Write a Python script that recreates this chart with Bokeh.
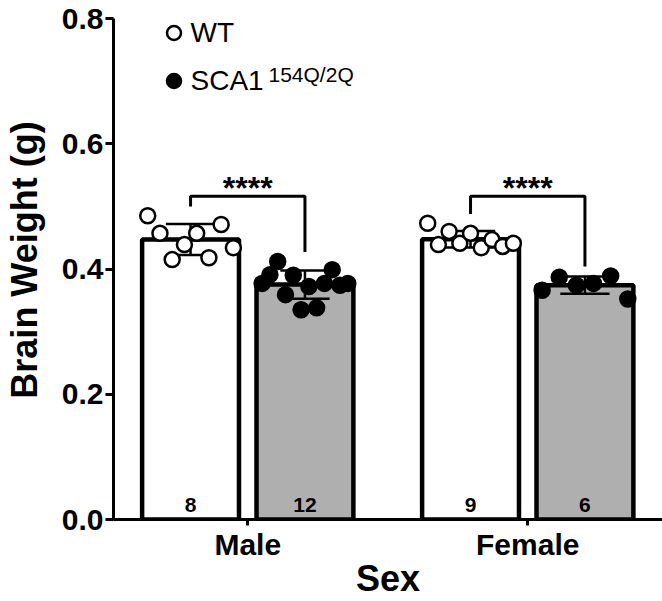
import numpy as np
from bokeh.plotting import figure
from bokeh.models import (ColumnDataSource, FixedTicker, Legend, LegendItem, Label,
                          PrintfTickFormatter, Range1d)
from bokeh.core.properties import value
from bokeh.embed import file_html
from bokeh.resources import INLINE

# ---------------- data ----------------
sexes = ["Male", "Female"]
genotypes = ["WT", "SCA1"]
genotype_superscript = ["", "154Q/2Q"]
wt_male = [0.485, 0.457, 0.415, 0.439, 0.457, 0.418, 0.471, 0.434]
sca_male = [0.377, 0.391, 0.412, 0.359, 0.390, 0.335, 0.372, 0.338,
            0.377, 0.399, 0.374, 0.377]
wt_female = [0.473, 0.439, 0.460, 0.441, 0.457, 0.434, 0.447, 0.436, 0.441]
sca_female = [0.366, 0.387, 0.374, 0.377, 0.389, 0.352]
significance = ["****", "****"]
y_ticks = [0.0, 0.2, 0.4, 0.6, 0.8]
y_label = "Brain Weight (g)"
x_label = "Sex"

# ---------------- layout / style ----------------
FONT = "Liberation Sans"
W, H = 662, 601
BORDER_L, BORDER_B = 112, 82
FRAME_W = W - BORDER_L
FRAME_H = H - BORDER_B
TOP_GAP = 18                       # px between frame top and the 0.8 tick
Y_END = 0.8 * FRAME_H / (FRAME_H - TOP_GAP)
BAR_W = 0.346          # bar width in category units
GROUP_OFF = 0.2043     # offset of each genotype bar from the category tick
SPREAD = 0.153         # half width over which points are spread
CAP_HALF = 0.088
BRACKET_Y = 0.516
BRACKET_GAP = 0.015
BAR_FILL = ["white", "#afafaf"]
PT_FILL = ["white", "black"]

groups = [(0, 0, wt_male), (0, 1, sca_male), (1, 0, wt_female), (1, 1, sca_female)]

p = figure(width=W, height=H, output_backend="svg", toolbar_location=None,
           x_range=Range1d(0.5205, 2.4813), y_range=Range1d(0, Y_END),
           min_border_left=BORDER_L, min_border_bottom=BORDER_B,
           min_border_top=0, min_border_right=0)
p.outline_line_color = None
p.xgrid.visible = False
p.ygrid.visible = False
p.background_fill_color = "white"

bar = dict(x=[], top=[], fill=[])
err = dict(x=[], lo=[], hi=[])
pts = {0: dict(x=[], y=[]), 1: dict(x=[], y=[])}
cnt = dict(x=[], text=[])
centers = {}
for si, gi, vals in groups:
    v = np.asarray(vals, dtype=float)
    cx = (si + 1) + (GROUP_OFF if gi == 1 else -GROUP_OFF)
    centers[(si, gi)] = (cx, v)
    m, sd = v.mean(), v.std(ddof=1)
    bar["x"].append(cx); bar["top"].append(m); bar["fill"].append(BAR_FILL[gi])
    err["x"].append(cx); err["lo"].append(m - sd); err["hi"].append(m + sd)
    offs = np.linspace(-SPREAD, SPREAD, len(v))
    pts[gi]["x"].extend(list(cx + offs)); pts[gi]["y"].extend(list(v))
    cnt["x"].append(cx); cnt["text"].append(str(len(v)))

p.vbar(x="x", top="top", bottom=0, width=BAR_W, fill_color="fill",
       line_color="black", line_width=4.5, source=ColumnDataSource(bar))

es = ColumnDataSource(dict(x=err["x"], lo=err["lo"], hi=err["hi"],
                           x0=[x - CAP_HALF for x in err["x"]],
                           x1=[x + CAP_HALF for x in err["x"]]))
p.segment(x0="x", y0="lo", x1="x", y1="hi", line_color="black", line_width=2.5, source=es)
p.segment(x0="x0", y0="hi", x1="x1", y1="hi", line_color="black", line_width=2.5, source=es)
p.segment(x0="x0", y0="lo", x1="x1", y1="lo", line_color="black", line_width=2.5, source=es)

r_pts = {}
for gi in (0, 1):
    r_pts[gi] = p.scatter(x="x", y="y", source=ColumnDataSource(pts[gi]), size=15,
                          marker="circle", fill_color=PT_FILL[gi],
                          line_color="black", line_width=2.5)

# n labels
p.text(x="x", y=0, text="text", source=ColumnDataSource(cnt),
       text_font=value(FONT), text_font_style="bold", text_font_size="21px",
       text_align="center", text_baseline="alphabetic", y_offset=-15, text_color="black")

# significance brackets
bx, by, sx, sy, st = [], [], [], [], []
for si in range(len(sexes)):
    x0, v0 = centers[(si, 0)]
    x1, v1 = centers[(si, 1)]
    bx.append([x0, x0, x1, x1])
    by.append([v0.max() + BRACKET_GAP, BRACKET_Y, BRACKET_Y, v1.max() + BRACKET_GAP])
    sx.append((x0 + x1) / 2); sy.append(BRACKET_Y); st.append(significance[si])
p.multi_line(xs=bx, ys=by, line_color="black", line_width=3)
p.text(x=sx, y=sy, text=st, text_font=value(FONT), text_font_style="bold",
       text_font_size="32px", text_align="center", text_baseline="alphabetic",
       y_offset=-8, text_color="black")

# axes
xa = p.xaxis[0]
xa.ticker = FixedTicker(ticks=[i + 1 for i in range(len(sexes))])
xa.major_label_overrides = {i + 1: s for i, s in enumerate(sexes)}
xa.axis_label = x_label
ya = p.yaxis[0]
ya.ticker = FixedTicker(ticks=y_ticks)
ya.formatter = PrintfTickFormatter(format="%.1f")
ya.bounds = (y_ticks[0], y_ticks[-1])
ya.axis_label = y_label
for ax in (xa, ya):
    ax.axis_line_width = 3
    ax.axis_line_color = "black"
    ax.major_tick_line_width = 3
    ax.major_tick_line_color = "black"
    ax.major_tick_in = 0
    ax.minor_tick_line_color = None
    ax.major_label_text_font = FONT
    ax.major_label_text_font_style = "bold"
    ax.major_label_text_font_size = "30px"
    ax.major_label_text_color = "black"
    ax.axis_label_text_font = FONT
    ax.axis_label_text_font_style = "bold"
    ax.axis_label_text_font_size = "36px"
    ax.axis_label_text_color = "black"
xa.major_tick_out = 6
xa.major_label_standoff = 2
xa.axis_label_standoff = -6
ya.major_tick_out = 8
ya.major_label_standoff = 2
ya.axis_label_standoff = 14

# legend
LEG_TOP = 15
legend = Legend(items=[LegendItem(label=genotypes[0], renderers=[r_pts[0]]),
                       LegendItem(label=genotypes[1], renderers=[r_pts[1]])],
                location=(42.5, FRAME_H - LEG_TOP - 83), orientation="vertical",
                glyph_width=35, glyph_height=35, label_height=35, spacing=13,
                padding=0, margin=0, label_standoff=0,
                border_line_color=None, background_fill_alpha=0,
                label_text_font=FONT, label_text_font_size="28px",
                label_text_color="black")
p.add_layout(legend)
p.add_layout(Label(x=155, y=FRAME_H - 74, x_units="screen", y_units="screen",
                   text=genotype_superscript[1], text_font=FONT, text_font_size="21px",
                   text_baseline="alphabetic", text_color="black"))

open("out.html", "w").write(file_html(p, INLINE))
